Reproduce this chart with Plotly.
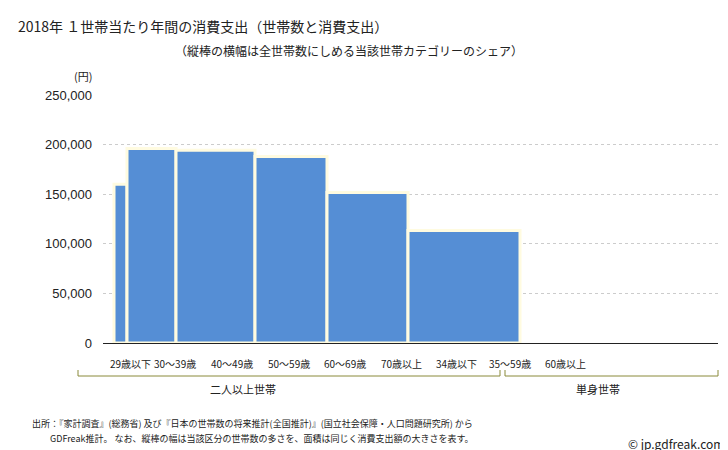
import plotly.graph_objects as go

categories = ["29歳以下", "30～39歳", "40～49歳", "50～59歳", "60～69歳", "70歳以上", "34歳以下", "35～59歳", "60歳以上"]
groups = ["二人以上世帯"] * 6 + ["単身世帯"] * 3
widths = [13, 49, 79, 72, 81, 112, 40, 78, 80]   # share of households (relative units)
values = [160000, 196000, 194300, 188000, 151700, 113400, None, None, None]
y_ticks = [0, 50000, 100000, 150000, 200000, 250000]

offset = 11
lefts = []
acc = offset
for w in widths:
    lefts.append(acc)
    acc += w
centers = [l + w / 2 for l, w in zip(lefts, widths)]

fig = go.Figure(go.Bar(
    x=centers, y=values, width=widths,
    marker=dict(color="#558ed5", line=dict(color="#fffbe0", width=3)),
    hoverinfo="skip",
))

font = "Noto Sans CJK JP"
fig.update_layout(
    width=728, height=450, margin=dict(l=95, r=18, t=87, b=115, autoexpand=False),
    plot_bgcolor="white", paper_bgcolor="white", showlegend=False,
    font=dict(family=font, color="#222", size=12),
    xaxis=dict(range=[0, 615], showticklabels=False, showgrid=False, zeroline=False,
               showline=True, linecolor="#222", linewidth=1, fixedrange=True, automargin=False),
    yaxis=dict(range=[0, 250000], tickvals=y_ticks, tickformat=",d", showgrid=True,
               gridcolor="#cccccc", griddash="dot", zeroline=False, ticks="", automargin=False,
               tickfont=dict(size=13, color="#222", family="Liberation Sans"), ticklabelstandoff=10),
)

ann = [
    dict(text="2018年 １世帯当たり年間の消費支出（世帯数と消費支出）", x=8, y=18, size=14, anchor="left"),
    dict(text="（縦棒の横幅は全世帯数にしめる当該世帯カテゴリーのシェア）", x=165, y=42, size=12, anchor="left"),
    dict(text="(円)", x=64, y=68, size=11, anchor="left"),
    dict(text="二人以上世帯", x=235, y=381, size=11, anchor="center"),
    dict(text="単身世帯", x=590, y=381, size=11, anchor="center"),
    dict(text="出所：『家計調査』(総務省) 及び『日本の世帯数の将来推計(全国推計)』(国立社会保障・人口問題研究所) から", x=22, y=415, size=9, anchor="left"),
    dict(text="GDFreak推計。 なお、縦棒の幅は当該区分の世帯数の多さを、面積は同じく消費支出額の大きさを表す。", x=40, y=430, size=9, anchor="left"),
    dict(text="© jp.gdfreak.com", x=718, y=435, size=12, anchor="right"),
]
label_x = [98, 143, 200, 257, 313, 369, 424, 478, 533]
for c, lx in zip(categories, label_x):
    ann.append(dict(text=c, x=lx + 24, y=355, size=10, anchor="center"))
for a in ann:
    fig.add_annotation(text=a["text"], xref="paper", yref="paper",
                       x=(a["x"] - 95) / 615, y=1 - (a["y"] - 87) / 248,
                       xanchor=a["anchor"], yanchor="middle", showarrow=False,
                       font=dict(size=a["size"], family=font, color="#222"))

def px_x(p): return (p - 95) / 615
def px_y(p): return 1 - (p - 87) / 248
for x0, x1 in [(70, 492), (497, 710)]:
    fig.add_shape(type="path", xref="paper", yref="paper",
                  path=f"M {px_x(x0)} {px_y(362)} L {px_x(x0)} {px_y(368)} L {px_x(x1)} {px_y(368)} L {px_x(x1)} {px_y(362)}",
                  line=dict(color="#8a8a3a", width=1))

fig.write_html("out.html")
